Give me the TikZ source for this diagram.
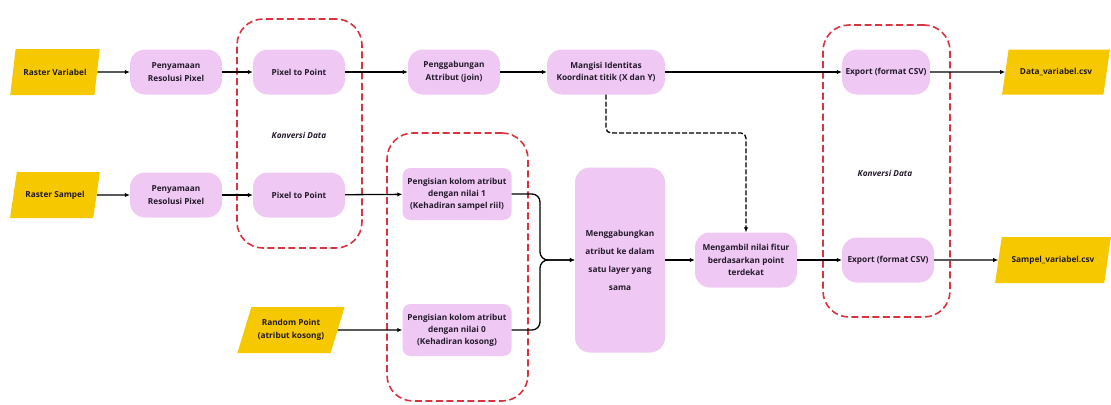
\documentclass[tikz,border=0pt]{standalone}
\usepackage{fontspec}
\setmainfont{Open Sans}
\usetikzlibrary{shapes.geometric,arrows.meta}
\definecolor{lil}{HTML}{EFC8F3}
\definecolor{gold}{HTML}{F6C800}
\definecolor{grpred}{HTML}{D8343F}
\definecolor{ink}{HTML}{231A2B}
\tikzset{
  proc/.style={rectangle, rounded corners=15bp, fill=lil, text=ink, align=center,
    font=\fontsize{8.3}{12.5}\selectfont\bfseries, inner sep=1bp},
  procsq/.style={proc, rounded corners=8bp},
  para/.style={trapezium, trapezium left angle=62, trapezium right angle=118,
    trapezium stretches=true, fill=gold, text=ink, align=center,
    font=\fontsize{8.3}{12.5}\selectfont\bfseries, inner sep=1bp},
  grp/.style={rectangle, draw=grpred, line width=1.6bp, dash pattern=on 7bp off 3.5bp,
    rounded corners=26bp},
  lbl/.style={font=\fontsize{8.3}{10}\selectfont\bfseries\itshape, text=ink},
  conn/.style={draw=black, line width=1.3bp, -{Latex[length=5bp,width=4.5bp]}},
  dconn/.style={conn, dash pattern=on 5bp off 2bp, rounded corners=5bp},
}
\begin{document}
\begin{tikzpicture}[x=1bp,y=-1bp]
\useasboundingbox (0,0) rectangle (1111,404);
% group boxes
\node[grp, minimum width=125bp, minimum height=229bp] (g1) at (299.5,133.5) {};
\node[grp, minimum width=141bp, minimum height=268bp] (g2) at (457.5,267) {};
\node[grp, minimum width=127bp, minimum height=292bp] (g3) at (886.5,171) {};
\node[lbl] (k1) at (299,135) {Konversi Data};
\node[lbl] (k2) at (885,173) {Konversi Data};
% inputs
\node[para, minimum width=90bp, minimum height=46bp] (rv) at (55,72) {Raster Variabel};
\node[para, minimum width=90bp, minimum height=46bp] (rs) at (55,195) {Raster Sampel};
\node[para, minimum width=108bp, minimum height=46bp] (rp) at (291,330) {Random Point\\(atribut kosong)};
% processes
\node[proc, minimum width=92bp, minimum height=45bp] (py1) at (176,72) {Penyamaan\\Resolusi Pixel};
\node[proc, minimum width=92bp, minimum height=45bp] (py2) at (176,195) {Penyamaan\\Resolusi Pixel};
\node[proc, minimum width=92bp, minimum height=45bp] (pp1) at (299,72) {Pixel to Point};
\node[proc, minimum width=92bp, minimum height=45bp] (pp2) at (299,195) {Pixel to Point};
\node[proc, minimum width=92bp, minimum height=45bp] (pg) at (454,72) {Penggabungan\\Attribut (join)};
\node[proc, minimum width=118bp, minimum height=45bp] (mi) at (606,72) {Mangisi Identitas\\Koordinat titik (X dan Y)};
\node[proc, minimum width=88bp, minimum height=45bp] (ex1) at (886,72) {Export (format CSV)};
\node[procsq, minimum width=109bp, minimum height=52bp, font=\fontsize{8.3}{12}\selectfont\bfseries] (pi1) at (457,194) {Pengisian kolom atribut\\dengan nilai 1\\(Kehadiran sampel riil)};
\node[procsq, minimum width=109bp, minimum height=52bp, font=\fontsize{8.3}{12}\selectfont\bfseries] (pi0) at (457,330) {Pengisian kolom atribut\\dengan nilai 0\\(Kehadiran kosong)};
\node[proc, minimum width=90bp, minimum height=185bp, font=\fontsize{8.3}{18}\selectfont\bfseries] (mg) at (620,260) {Menggabungkan\\atribut ke dalam\\satu layer yang\\sama};
\node[proc, minimum width=102bp, minimum height=55bp, font=\fontsize{8.3}{12.5}\selectfont\bfseries] (ma) at (746,260) {Mengambil nilai fitur\\berdasarkan point\\terdekat};
\node[proc, minimum width=92bp, minimum height=45bp] (ex2) at (888,260) {Export (format CSV)};
% outputs
\node[para, minimum width=108bp, minimum height=45bp] (dv) at (1056,72) {Data\_variabel.csv};
\node[para, minimum width=116bp, minimum height=46bp] (sv) at (1053,260) {Sampel\_variabel.csv};
% connectors
\draw[conn] (rv) -- (py1);
\draw[conn] (rs) -- (py2);
\draw[conn] (py1) -- (pp1);
\draw[conn] (py2) -- (pp2);
\draw[conn] (pp1) -- (pg);
\draw[conn] (pp2) -- (pi1);
\draw[conn] (pg) -- (mi);
\draw[conn] (mi) -- (ex1);
\draw[conn] (ex1) -- (dv);
\draw[conn] (rp) -- (pi0);
\coordinate (j) at (540,260);
\draw[conn, rounded corners=8bp] (pi1.east) -| (j) -- (mg.west);
\draw[conn, rounded corners=8bp] (pi0.east) -| (j) -- (mg.west);
\draw[conn] (mg) -- (ma);
\draw[conn] (ma) -- (ex2);
\draw[conn] (ex2) -- (sv);
\coordinate (d1) at (606,133);
\draw[dconn] (mi.south) -- (d1) -| (ma.north);
\end{tikzpicture}
\end{document}
